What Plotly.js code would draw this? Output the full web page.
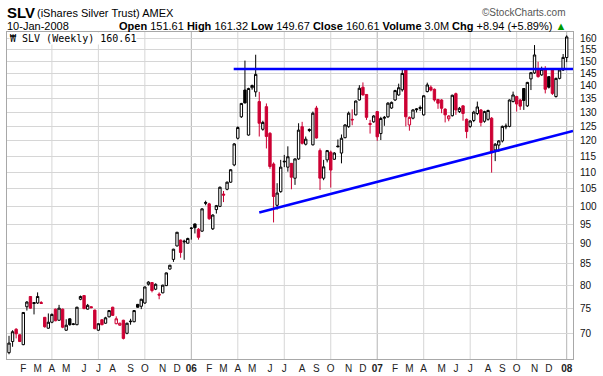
<!DOCTYPE html>
<html>
<head>
<meta charset="utf-8">
<script src="https://cdn.plot.ly/plotly-3.0.1.min.js"></script>
<style>
html,body{margin:0;padding:0;background:#ffffff;}
#chart{width:603px;height:376px;}
</style>
</head>
<body>
<div id="chart"></div>
<script>
// Weekly bars, first week starting 2005-01-10
const firstWeek = '2005-01-10';

const opens = [
 66.3, 68.4, 70.8, 69.7, 67.8, 75.4, 77.6, 76.3, 76.2, 76.3,
 73.2, 71.0, 72.2, 74.9, 72.6, 74.9, 70.6, 72.9, 71.75, 71.7,
 77.0, 77.8, 74.9, 75.4, 74.7, 70.6, 72.7, 72.0, 73.3, 75.3,
 71.9, 71.6, 72.6, 70.0, 72.3, 72.3, 75.9, 75.5, 76.2, 80.3,
 80.7, 79.2, 78.1, 78.4, 80.0, 83.8, 86.1, 89.4, 90.9, 90.4,
 90.1, 93.9, 95.1, 93.7, 93.2, 101.0, 100.6, 93.8, 99.0, 99.9,
 103.4, 104.8, 106.9, 112.2, 120.9, 128.4, 138.4, 122.0, 139.3, 137.7,
 134.0, 124.0, 132.1, 122.6, 112.5, 100.2, 104.1, 113.4, 111.5, 112.7,
 108.1, 114.1, 124.9, 118.9, 123.9, 118.7, 131.6, 116.8, 108.1, 113.8,
 116.3, 114.0, 118.3, 116.0, 121.1, 124.9, 127.5, 129.1, 134.6, 139.5,
 136.7, 126.0, 126.6, 130.3, 122.5, 127.9, 128.4, 131.6, 134.6, 136.5,
 138.5, 146.4, 125.5, 127.9, 131.3, 131.8, 129.1, 137.8, 139.5, 138.7,
 134.8, 134.6, 131.2, 127.7, 128.8, 137.0, 130.3, 132.4, 127.5, 125.0,
 127.1, 129.6, 130.9, 126.8, 127.5, 127.9, 117.0, 118.6, 120.0, 124.8,
 125.0, 134.0, 135.9, 134.6, 139.0, 132.4, 142.8, 145.2, 146.7, 144.4,
 146.4, 143.7, 146.4, 135.9, 143.0, 146.4, 151.61
];
const highs = [
 69.5, 70.6, 71.0, 69.8, 74.3, 76.6, 77.6, 76.4, 78.5, 76.6,
 73.2, 74.0, 74.0, 75.0, 75.8, 75.0, 72.8, 73.0, 72.0, 75.4,
 77.8, 77.9, 76.0, 75.5, 74.8, 72.0, 72.8, 73.3, 74.7, 75.4,
 73.4, 72.1, 72.7, 72.1, 72.9, 74.7, 76.0, 77.1, 79.8, 81.0,
 80.8, 80.5, 78.5, 80.2, 83.0, 84.8, 88.7, 93.0, 91.0, 91.0,
 91.5, 94.2, 95.2, 94.0, 99.4, 101.5, 100.9, 97.7, 100.3, 105.6,
 104.3, 107.1, 110.9, 119.3, 125.0, 133.5, 150.3, 139.3, 140.5, 152.8,
 137.7, 127.0, 133.3, 123.0, 113.0, 106.6, 113.8, 115.4, 118.2, 112.8,
 114.3, 126.1, 126.6, 121.5, 124.3, 130.3, 132.4, 117.5, 113.8, 117.0,
 116.8, 116.3, 120.5, 122.2, 125.8, 130.3, 131.1, 134.4, 140.3, 141.4,
 136.8, 127.3, 129.0, 130.5, 128.4, 128.7, 133.8, 134.0, 138.5, 140.9,
 146.8, 147.0, 128.5, 131.2, 131.6, 132.5, 136.4, 141.3, 140.2, 139.0,
 135.0, 134.9, 131.5, 129.0, 136.6, 137.4, 132.0, 132.6, 127.8, 127.2,
 130.6, 134.0, 131.2, 130.6, 131.0, 128.3, 119.3, 120.3, 125.3, 126.0,
 134.8, 137.8, 136.2, 134.9, 139.2, 141.6, 145.6, 157.0, 149.8, 147.8,
 148.0, 143.9, 146.6, 143.3, 146.8, 153.1, 161.32
];
const lows = [
 66.0, 67.4, 69.0, 68.3, 67.7, 74.6, 75.0, 73.8, 76.0, 76.0,
 71.1, 70.9, 72.0, 72.4, 72.5, 71.0, 70.5, 71.5, 71.6, 71.6,
 76.8, 74.9, 74.8, 75.1, 70.8, 70.5, 71.6, 71.9, 73.2, 73.5,
 71.8, 71.5, 68.8, 69.8, 71.7, 72.2, 75.2, 74.9, 76.0, 80.0,
 78.5, 79.0, 77.0, 78.3, 79.9, 83.7, 85.5, 89.3, 86.5, 86.0,
 90.0, 91.0, 92.6, 91.0, 93.0, 100.2, 96.2, 93.5, 97.9, 99.7,
 101.1, 104.5, 106.7, 111.8, 120.5, 128.0, 133.3, 121.8, 138.5, 135.8,
 121.5, 123.5, 117.5, 111.0, 95.5, 99.0, 103.8, 111.5, 110.1, 104.8,
 106.1, 113.8, 118.8, 118.5, 123.0, 118.5, 120.8, 104.6, 107.5, 113.0,
 105.3, 113.8, 117.8, 112.7, 120.9, 124.5, 125.4, 128.9, 134.4, 136.3,
 127.3, 122.5, 126.3, 120.0, 120.3, 125.2, 128.0, 131.3, 134.2, 136.2,
 137.8, 125.0, 123.5, 127.5, 130.0, 130.5, 128.8, 137.5, 137.9, 134.0,
 131.3, 129.7, 126.4, 126.8, 128.5, 129.1, 129.8, 127.0, 120.9, 124.5,
 126.5, 129.0, 125.0, 126.3, 127.0, 109.8, 113.4, 116.4, 119.5, 124.0,
 124.7, 133.7, 130.3, 130.9, 130.9, 132.0, 138.4, 144.8, 143.3, 144.0,
 137.1, 139.0, 136.5, 135.5, 142.6, 146.0, 149.67
];
const closes = [
 68.1, 70.3, 69.9, 68.4, 74.2, 76.4, 75.1, 76.1, 77.6, 76.1,
 71.3, 72.2, 73.8, 72.5, 75.1, 71.2, 71.6, 71.7, 71.85, 75.3,
 77.6, 75.0, 75.7, 75.2, 70.9, 71.9, 71.7, 73.1, 74.6, 73.6,
 72.9, 72.0, 69.0, 72.0, 72.4, 74.6, 75.3, 77.0, 79.7, 80.8,
 78.9, 80.3, 77.9, 80.1, 82.9, 84.7, 88.6, 92.9, 87.8, 90.6,
 91.3, 94.0, 94.1, 91.6, 99.2, 100.8, 96.5, 97.5, 100.1, 105.4,
 103.1, 106.9, 110.7, 119.0, 124.6, 133.3, 133.5, 139.0, 140.2, 144.6,
 126.1, 126.4, 121.5, 111.7, 102.7, 103.7, 111.5, 113.2, 114.8, 108.4,
 114.1, 123.7, 119.2, 120.6, 123.6, 129.7, 121.0, 108.1, 111.6, 116.8,
 110.6, 116.0, 118.1, 120.9, 125.5, 129.7, 127.3, 134.2, 139.1, 136.5,
 128.2, 125.7, 128.7, 121.4, 127.8, 128.2, 133.4, 133.7, 138.2, 139.3,
 145.0, 128.4, 128.2, 130.9, 131.0, 131.5, 136.2, 140.4, 138.4, 134.6,
 133.4, 131.5, 129.1, 128.7, 136.4, 130.9, 131.5, 129.6, 123.2, 126.9,
 130.1, 132.0, 126.4, 130.3, 130.7, 116.1, 118.9, 120.0, 125.0, 125.1,
 134.6, 136.5, 133.1, 132.3, 134.4, 141.4, 145.3, 152.7, 143.7, 146.7,
 138.7, 139.5, 137.1, 143.0, 146.4, 151.67, 160.61
];

// Trend lines drawn on the chart
const resistX = ['2006-03-26', '2008-01-19 08:00'];
const resistY = [146.8, 146.8];
const supportX = ['2006-05-15', '2008-01-19 08:00'];
const supportY = [98.2, 123.4];

const yTicks = [70, 75, 80, 85, 90, 95, 100, 105, 110, 115, 120, 125, 130, 135, 140, 145, 150, 155, 160];
const monthLetters = ['J','F','M','A','M','J','J','A','S','O','N','D'];

const RED = '#cc0033';

// weekly dates
const t0 = Date.parse(firstWeek + 'T00:00:00Z');
const dates = opens.map((_, i) => new Date(t0 + i * 7 * 86400000).toISOString().slice(0, 10));

// split by close vs previous close (black = up week, red = down week)
const up = {x: [], open: [], high: [], low: [], close: []};
const dn = {x: [], open: [], high: [], low: [], close: []};
for (let i = 0; i < dates.length; i++) {
  const prev = i > 0 ? closes[i - 1] : opens[i];
  const g = closes[i] >= prev ? up : dn;
  g.x.push(dates[i]); g.open.push(opens[i]); g.high.push(highs[i]);
  g.low.push(lows[i]); g.close.push(closes[i]);
}

// month ticks at the first bar of each month, quarter gridlines
const tickVals = [], tickText = [], shapes = [];
for (let i = 1; i < dates.length; i++) {
  const m = +dates[i].slice(5, 7), pm = +dates[i - 1].slice(5, 7);
  if (m !== pm) {
    tickVals.push(dates[i]);
    tickText.push(m === 1 ? '<b>' + dates[i].slice(2, 4) + '</b>' : monthLetters[m - 1]);
    if ((m - 1) % 3 === 0) {
      shapes.push({type: 'line', xref: 'x', yref: 'paper', x0: dates[i], x1: dates[i], y0: 0, y1: 1,
        layer: 'below', line: {color: m === 1 ? '#b4b4b4' : '#d6d6d6', width: 1}});
    }
  }
}

const traces = [
  {type: 'candlestick', x: up.x, open: up.open, high: up.high, low: up.low, close: up.close,
   increasing: {line: {color: '#000000', width: 1}, fillcolor: '#ffffff'},
   decreasing: {line: {color: '#000000', width: 1}, fillcolor: '#000000'},
   whiskerwidth: 0, hoverinfo: 'skip', showlegend: false},
  {type: 'candlestick', x: dn.x, open: dn.open, high: dn.high, low: dn.low, close: dn.close,
   increasing: {line: {color: RED, width: 1}, fillcolor: '#ffffff'},
   decreasing: {line: {color: RED, width: 1}, fillcolor: RED},
   whiskerwidth: 0, hoverinfo: 'skip', showlegend: false},
  {type: 'scatter', mode: 'lines', x: resistX, y: resistY,
   line: {color: '#0000ff', width: 2.5}, hoverinfo: 'skip', showlegend: false},
  {type: 'scatter', mode: 'lines', x: supportX, y: supportY,
   line: {color: '#0000ff', width: 2.5}, hoverinfo: 'skip', showlegend: false}
];

const F = 'Liberation Sans, Arial, sans-serif';
const W = 566, H = 327, L = 7, B = 359;
const px = v => (v - L) / W;
const py = v => (B - v) / H;

const annotations = [
  {xref: 'paper', yref: 'paper', x: px(6), y: py(12.5), xanchor: 'left', yanchor: 'middle', showarrow: false,
   text: '<b>SLV</b>', font: {family: F, size: 15, color: '#000'}, borderpad: 0},
  {xref: 'paper', yref: 'paper', x: px(36), y: py(13), xanchor: 'left', yanchor: 'middle', showarrow: false,
   text: '(iShares Silver Trust) AMEX', font: {family: F, size: 11, color: '#000'}, borderpad: 0},
  {xref: 'paper', yref: 'paper', x: px(567), y: py(13), xanchor: 'right', yanchor: 'middle', showarrow: false,
   text: '\u00a9StockCharts.com', font: {family: F, size: 10, color: '#555'}, borderpad: 0},
  {xref: 'paper', yref: 'paper', x: px(6), y: py(26), xanchor: 'left', yanchor: 'middle', showarrow: false,
   text: '10-Jan-2008', font: {family: F, size: 11, color: '#000'}, borderpad: 0},
  {xref: 'paper', yref: 'paper', x: px(567), y: py(26), xanchor: 'right', yanchor: 'middle', showarrow: false,
   text: '<b>Open</b> 151.61 <b>High</b> 161.32 <b>Low</b> 149.67 <b>Close</b> 160.61 <b>Volume</b> 3.0M <b>Chg</b> +8.94 (+5.89%) <span style="color:#009900">\u25b2</span>',
   font: {family: F, size: 11, color: '#000'}, borderpad: 0},
  {xref: 'paper', yref: 'paper', x: px(9), y: py(38), xanchor: 'left', yanchor: 'middle', showarrow: false,
   text: '\u20a9 SLV (Weekly) 160.61', bgcolor: '#ffffff', borderpad: 0,
   font: {family: 'DejaVu Sans Mono, monospace', size: 10, color: '#000'}}
];

const layout = {
  width: 603, height: 376,
  margin: {l: 7, r: 30, t: 32, b: 17, pad: 0},
  paper_bgcolor: '#ffffff', plot_bgcolor: '#ffffff',
  showlegend: false,
  boxgap: 0.3, boxgroupgap: 0.05,
  xaxis: {
    type: 'date', range: ['2005-01-06 02:00', '2008-01-19 08:00'],
    tickmode: 'array', tickvals: tickVals, ticktext: tickText,
    ticks: '', showgrid: false, zeroline: false,
    showline: true, linecolor: '#a8a8a8', linewidth: 1, mirror: true,
    tickfont: {family: F, size: 10, color: '#222'},
    rangeslider: {visible: false}, fixedrange: true
  },
  yaxis: {
    type: 'log', side: 'right',
    range: [Math.log10(65.13), Math.log10(162.85)],
    tickmode: 'array', tickvals: yTicks, ticktext: yTicks.map(String),
    showgrid: true, gridcolor: '#d6d6d6', gridwidth: 1, zeroline: false,
    showline: true, linecolor: '#a8a8a8', linewidth: 1, mirror: true,
    ticks: 'outside', ticklen: 4, tickcolor: '#ffffff',
    tickfont: {family: F, size: 10, color: '#111'}, fixedrange: true
  },
  shapes: shapes,
  annotations: annotations
};

Plotly.newPlot('chart', traces, layout, {displayModeBar: false, staticPlot: true});
</script>
</body>
</html>
